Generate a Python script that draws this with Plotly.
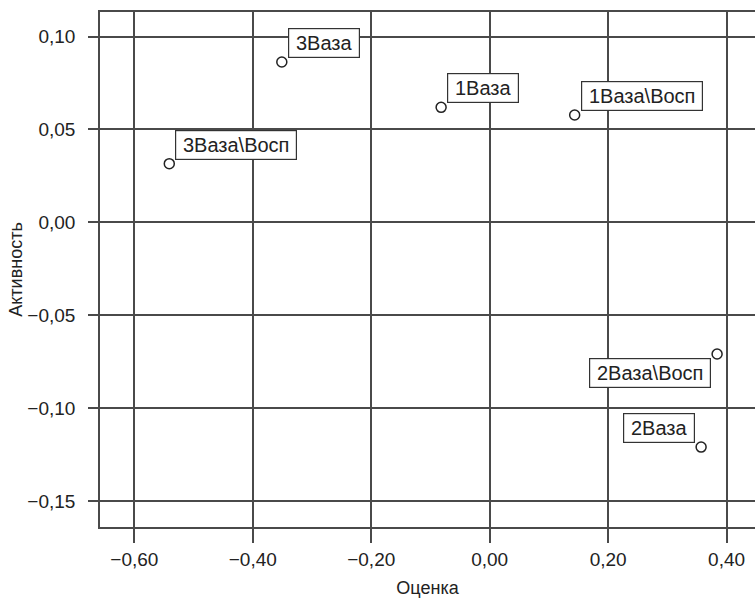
import plotly.graph_objects as go

labels = ["3Ваза", "3Ваза\\Восп", "1Ваза", "1Ваза\\Восп", "2Ваза\\Восп", "2Ваза"]
ocenka = [-0.351, -0.541, -0.082, 0.1435, 0.384, 0.357]
aktivnost = [0.0863, 0.0316, 0.0619, 0.0578, -0.0708, -0.1209]
# label placement: 'ur' = upper-right of point, 'll' = lower-left, 'ul' = upper-left
placement = ["ur", "ur", "ur", "ur", "ll", "ul"]

x_ticks = [-0.6, -0.4, -0.2, 0.0, 0.2, 0.4]
x_ticktext = ["\u22120,60", "\u22120,40", "\u22120,20", "0,00", "0,20", "0,40"]
y_ticks = [0.10, 0.05, 0.0, -0.05, -0.10, -0.15]
y_ticktext = ["0,10", "0,05", "0,00", "\u22120,05", "\u22120,10", "\u22120,15"]

FONT = "Liberation Sans, Arial, sans-serif"
LINE = "#4a4a4a"
LW = 1.6

fig = go.Figure()
fig.add_trace(go.Scatter(
    x=ocenka, y=aktivnost, mode="markers",
    marker=dict(symbol="circle-open", size=10, color="#222", line=dict(width=1.5)),
    hoverinfo="skip", showlegend=False,
))

for lab, xv, yv, pl in zip(labels, ocenka, aktivnost, placement):
    if pl == "ur":
        xa, ya, xs, ys = "left", "bottom", 6, 4
    elif pl == "ll":
        xa, ya, xs, ys = "right", "top", -6, -4
    else:
        xa, ya, xs, ys = "right", "bottom", -6, 4
    fig.add_annotation(
        x=xv, y=yv, xref="x", yref="y", text=lab, showarrow=False,
        xanchor=xa, yanchor=ya, xshift=xs, yshift=ys,
        width=64 if "\\" not in lab else 114, align="center",
        font=dict(family=FONT, size=20, color="#222"),
        bgcolor="white", bordercolor="#333", borderwidth=1.2, borderpad=3,
    )

fig.update_layout(
    width=755, height=598,
    margin=dict(l=100, r=0, t=12, b=71),
    paper_bgcolor="white", plot_bgcolor="white",
    font=dict(family=FONT, size=19, color="#222"),
    xaxis=dict(
        range=[-0.658, 0.448], tickvals=x_ticks, ticktext=x_ticktext,
        showgrid=True, gridcolor=LINE, gridwidth=LW, zeroline=False,
        showline=True, linecolor=LINE, linewidth=LW, mirror=True,
        ticks="outside", ticklen=14, tickwidth=LW, tickcolor=LINE,
        ticklabelstandoff=0,
        title=dict(text="Оценка", font=dict(size=18), standoff=15),
    ),
    yaxis=dict(
        range=[-0.1639, 0.1132], tickvals=y_ticks, ticktext=y_ticktext,
        showgrid=True, gridcolor=LINE, gridwidth=LW, zeroline=False,
        showline=True, linecolor=LINE, linewidth=LW,
        ticks="outside", ticklen=10, tickwidth=LW, tickcolor=LINE,
        ticklabelstandoff=9,
        title=dict(text="Активность", font=dict(size=18), standoff=0),
    ),
)

fig.write_html(
    "out.html",
    config={"displayModeBar": False},
    post_script="document.body.style.margin='0';document.body.style.padding='0';",
)
